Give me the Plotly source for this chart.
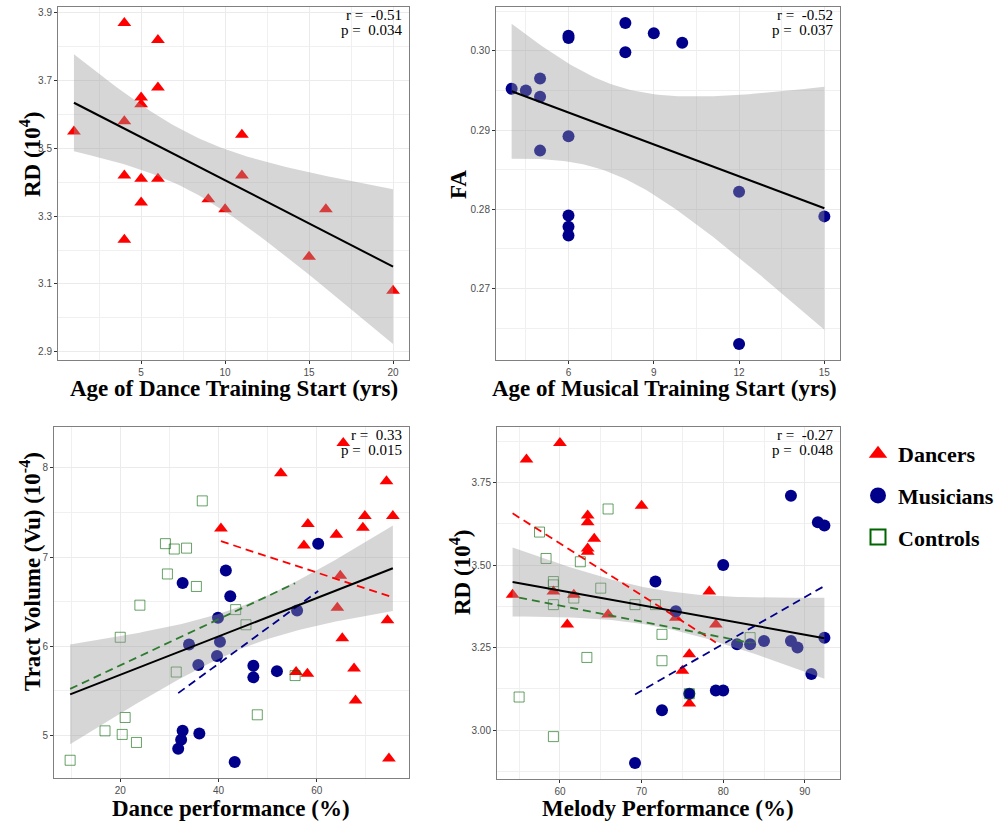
import numpy as np
import plotly.graph_objects as go

W, H = 1001, 825

# ---------------- Panel A: dancers, age of dance training start vs RD
dance_start_age = [1, 4, 4, 4, 4, 5, 5, 5, 5, 6, 6, 6, 9, 10, 11, 11, 15, 16, 20]
dance_start_rd = [3.55, 3.87, 3.58, 3.42, 3.23, 3.65, 3.63, 3.41, 3.34, 3.82,
                  3.68, 3.41, 3.35, 3.32, 3.54, 3.42, 3.18, 3.32, 3.08]
stats_a = ("-0.51", "0.034")

# ---------------- Panel B: musicians, age of musical training start vs FA
music_start_age = [4, 4.5, 5, 5, 5, 6, 6, 6, 6, 6, 6, 8, 8, 9, 10, 12, 12, 15]
music_start_fa = [0.2952, 0.2950, 0.2965, 0.2942, 0.2874, 0.3019, 0.3016, 0.2892,
                  0.2792, 0.2778, 0.2767, 0.3035, 0.2998, 0.3022, 0.3010, 0.2822,
                  0.2630, 0.2791]
stats_b = ("-0.52", "0.037")

# ---------------- Panel C: dance performance vs tract volume
dancers_dance_perf = [65.4, 52.7, 74.2, 69.8, 75.5, 40.5, 58.2, 64.0, 57.4, 69.4,
                      64.8, 64.2, 74.4, 65.2, 67.6, 55.8, 58.1, 67.9, 74.7]
dancers_volume = [8.28, 7.94, 7.85, 7.46, 7.46, 7.32, 7.37, 7.25, 7.13, 7.33,
                  6.79, 6.43, 6.29, 6.09, 5.75, 5.71, 5.69, 5.39, 4.74]
musicians_dance_perf = [60.3, 41.5, 32.7, 42.4, 39.9, 56.0, 34.0, 40.3, 39.7, 35.9,
                        47.1, 47.1, 51.9, 32.7, 32.4, 31.8, 36.1, 43.3]
musicians_volume = [7.15, 6.85, 6.71, 6.56, 6.32, 6.40, 6.02, 6.05, 5.89, 5.79,
                    5.78, 5.65, 5.72, 5.05, 4.95, 4.85, 5.02, 4.70]
controls_dance_perf = [36.7, 29.2, 31.0, 33.5, 29.6, 35.5, 24.0, 43.5, 45.6, 20.0,
                       31.4, 55.6, 47.9, 21.0, 16.9, 20.4, 23.3, 9.8]
controls_volume = [7.63, 7.15, 7.09, 7.10, 6.81, 6.67, 6.46, 6.41, 6.24, 6.10,
                   5.71, 5.67, 5.23, 5.20, 5.05, 5.01, 4.92, 4.72]
stats_c = ("0.33", "0.015")

# ---------------- Panel D: melody performance vs RD
dancers_melody = [54.2, 55.9, 60.0, 59.2, 60.9, 61.7, 63.4, 63.4, 63.4, 63.4,
                  64.2, 65.9, 70.0, 74.2, 75.0, 75.85, 75.85, 78.3, 79.1]
dancers_rd = [3.41, 3.82, 3.87, 3.42, 3.32, 3.41, 3.65, 3.63, 3.55, 3.54,
              3.58, 3.35, 3.68, 3.34, 3.18, 3.23, 3.08, 3.42, 3.32]
musicians_melody = [88.3, 91.6, 92.4, 80.0, 71.7, 74.2, 81.7, 83.3, 85.0, 88.3,
                    89.1, 92.4, 90.8, 79.1, 80.0, 75.85, 72.5, 69.2]
musicians_rd = [3.71, 3.63, 3.62, 3.50, 3.45, 3.36, 3.26, 3.26, 3.27, 3.27,
                3.25, 3.28, 3.17, 3.12, 3.12, 3.11, 3.06, 2.90]
controls_melody = [65.9, 57.5, 58.3, 62.5, 59.2, 59.2, 65.0, 61.7, 59.2, 69.2,
                   71.7, 72.5, 72.5, 83.3, 63.3, 55.0, 59.2, 75.85]
controls_rd = [3.67, 3.60, 3.52, 3.51, 3.45, 3.44, 3.43, 3.40, 3.38, 3.38,
               3.38, 3.29, 3.21, 3.28, 3.22, 3.10, 2.98, 3.11]
stats_d = ("-0.27", "0.048")

# ---------------- styling
RED = "#FF0000"
NAVY = "#00008B"
GREEN = "#006400"
GREEN_DASH = "#2E7A2E"
SQUARE_LINE = "rgba(0,100,0,0.6)"
RIBBON = "rgba(153,153,153,0.4)"
SERIF = "Liberation Serif"
SANS = "Liberation Sans"

# panel pixel boxes: left, right, top, bottom
PANELS = {
    1: (58, 409, 7, 360),
    2: (496, 840, 7, 360),
    3: (54, 409, 427, 778),
    4: (497, 840, 427, 779),
}

T975 = {16: 2.1199, 17: 2.1098, 53: 2.0057, 52: 2.0066}


def lm_fit(x, y, n_grid=80):
    x = np.asarray(x, float)
    y = np.asarray(y, float)
    n = len(x)
    b1, b0 = np.polyfit(x, y, 1)
    xs = np.linspace(x.min(), x.max(), n_grid)
    ys = b0 + b1 * xs
    resid = y - (b0 + b1 * x)
    s = np.sqrt((resid ** 2).sum() / (n - 2))
    sxx = ((x - x.mean()) ** 2).sum()
    se = s * np.sqrt(1.0 / n + (xs - x.mean()) ** 2 / sxx)
    t = T975.get(n - 2, 2.0)
    return xs, ys, ys - t * se, ys + t * se


def expand(vals):
    lo, hi = float(np.min(vals)), float(np.max(vals))
    d = (hi - lo) * 0.05
    return [lo - d, hi + d]


fig = go.Figure()


def ax(i):
    return ("x" if i == 1 else f"x{i}"), ("y" if i == 1 else f"y{i}")


def add_points(i, x, y, kind):
    xa, ya = ax(i)
    if kind == "d":
        m = dict(symbol="triangle-up", size=12, color=RED)
    elif kind == "m":
        m = dict(symbol="circle", size=12, color=NAVY)
    else:
        m = dict(symbol="square-open", size=10, color=SQUARE_LINE,
                 line=dict(color=SQUARE_LINE, width=1))
    fig.add_trace(go.Scatter(x=x, y=y, mode="markers", marker=m,
                             showlegend=False, hoverinfo="skip",
                             xaxis=xa, yaxis=ya))


def add_ribbon(i, x, y):
    xa, ya = ax(i)
    xs, ys, lo, hi = lm_fit(x, y)
    fig.add_trace(go.Scatter(x=np.concatenate([xs, xs[::-1]]),
                             y=np.concatenate([hi, lo[::-1]]),
                             fill="toself", fillcolor=RIBBON, mode="lines",
                             line=dict(width=0), showlegend=False,
                             hoverinfo="skip", xaxis=xa, yaxis=ya))
    return xs, ys, lo, hi


def add_line(i, xs, ys, color, dash=None, width=2):
    xa, ya = ax(i)
    fig.add_trace(go.Scatter(x=xs, y=ys, mode="lines",
                             line=dict(color=color, width=width, dash=dash),
                             showlegend=False, hoverinfo="skip",
                             xaxis=xa, yaxis=ya))


def add_group_line(i, x, y, color):
    xs, ys, _, _ = lm_fit(x, y, n_grid=2)
    add_line(i, xs, ys, color, dash="8px,5px", width=1.8)


ranges = {}

# Panel A
add_points(1, dance_start_age, dance_start_rd, "d")
xs, ys, lo, hi = add_ribbon(1, dance_start_age, dance_start_rd)
add_line(1, xs, ys, "black")
ranges[1] = (expand(dance_start_age), expand(np.concatenate([dance_start_rd, lo, hi])))

# Panel B
add_points(2, music_start_age, music_start_fa, "m")
xs, ys, lo, hi = add_ribbon(2, music_start_age, music_start_fa)
add_line(2, xs, ys, "black")
ranges[2] = (expand(music_start_age), expand(np.concatenate([music_start_fa, lo, hi])))

# Panel C
add_points(3, dancers_dance_perf, dancers_volume, "d")
add_points(3, musicians_dance_perf, musicians_volume, "m")
add_points(3, controls_dance_perf, controls_volume, "c")
all_x = dancers_dance_perf + musicians_dance_perf + controls_dance_perf
all_y = dancers_volume + musicians_volume + controls_volume
xs, ys, lo, hi = add_ribbon(3, all_x, all_y)
add_group_line(3, dancers_dance_perf, dancers_volume, RED)
add_group_line(3, musicians_dance_perf, musicians_volume, NAVY)
add_group_line(3, controls_dance_perf, controls_volume, GREEN_DASH)
add_line(3, xs, ys, "black")
ranges[3] = (expand(all_x), expand(np.concatenate([all_y, lo, hi])))

# Panel D
add_points(4, dancers_melody, dancers_rd, "d")
add_points(4, musicians_melody, musicians_rd, "m")
add_points(4, controls_melody, controls_rd, "c")
all_x = dancers_melody + musicians_melody + controls_melody
all_y = dancers_rd + musicians_rd + controls_rd
xs, ys, lo, hi = add_ribbon(4, all_x, all_y)
add_group_line(4, dancers_melody, dancers_rd, RED)
add_group_line(4, musicians_melody, musicians_rd, NAVY)
add_group_line(4, controls_melody, controls_rd, GREEN_DASH)
add_line(4, xs, ys, "black")
ranges[4] = (expand(all_x), expand(np.concatenate([all_y, lo, hi])))

# legend-only traces
legend_items = [
    ("Dancers", dict(symbol="triangle-up", size=16, color=RED)),
    ("Musicians", dict(symbol="circle", size=16, color=NAVY)),
    ("Controls", dict(symbol="square-open", size=15, color=GREEN,
                      line=dict(color=GREEN, width=2))),
]
for name, m in legend_items:
    fig.add_trace(go.Scatter(x=[None], y=[None], mode="markers", marker=m,
                             name=f"<b>{name}</b>", legendgroup=name,
                             showlegend=True, xaxis="x", yaxis="y"))

ticks = {
    1: (dict(tick0=0, dtick=5, tickformat="d"), dict(dtick=2.5, tick0=0),
        dict(tick0=2.9, dtick=0.2, tickformat=".1f"), dict(dtick=0.1, tick0=2.9)),
    2: (dict(tick0=0, dtick=3, tickformat="d"), dict(dtick=1.5, tick0=0),
        dict(tick0=0.27, dtick=0.01, tickformat=".2f"), dict(dtick=0.005, tick0=0.27)),
    3: (dict(tick0=0, dtick=20, tickformat="d"), dict(dtick=10, tick0=0),
        dict(tick0=0, dtick=1, tickformat="d"), dict(dtick=0.5, tick0=0)),
    4: (dict(tick0=0, dtick=10, tickformat="d"), dict(dtick=5, tick0=0),
        dict(tick0=3.0, dtick=0.25, tickformat=".2f"), dict(dtick=0.125, tick0=3.0)),
}

common = dict(showline=True, mirror=True, linecolor="#808080", linewidth=1,
              ticks="outside", ticklen=3, tickcolor="#333333", tickwidth=1,
              tickfont=dict(family=SANS, size=10, color="#4D4D4D"),
              showgrid=True, gridcolor="#EBEBEB", gridwidth=1, zeroline=False,
              tickmode="linear", fixedrange=True)

layout_axes = {}
for i, (l, r, t, b) in PANELS.items():
    xa, ya = ax(i)
    xkey = "xaxis" if i == 1 else f"xaxis{i}"
    ykey = "yaxis" if i == 1 else f"yaxis{i}"
    xt, xm, yt, ym = ticks[i]
    layout_axes[xkey] = dict(common, domain=[l / W, r / W], anchor=ya,
                             range=ranges[i][0], **xt,
                             minor=dict(showgrid=True, gridcolor="#F0F0F0",
                                        gridwidth=0.6, **xm))
    layout_axes[ykey] = dict(common, domain=[1 - b / H, 1 - t / H], anchor=xa,
                             range=ranges[i][1], **yt,
                             minor=dict(showgrid=True, gridcolor="#F0F0F0",
                                        gridwidth=0.6, **ym))

fig.update_layout(
    width=W, height=H,
    margin=dict(l=0, r=0, t=0, b=0),
    paper_bgcolor="white", plot_bgcolor="white",
    showlegend=True,
    legend=dict(x=858 / W, y=1 - 433 / H, xanchor="left", yanchor="top",
                font=dict(family=SERIF, size=22, color="black"),
                bgcolor="rgba(0,0,0,0)", tracegroupgap=10,
                itemclick=False, itemdoubleclick=False),
    **layout_axes,
)

# axis titles
TITLE_FONT = dict(family=SERIF, size=23, color="black")
x_titles = [
    ("Age of Dance Training Start (yrs)", 234, 389),
    ("Age of Musical Training Start (yrs)", 664, 389),
    ("Dance performance (%)", 231, 808),
    ("Melody Performance (%)", 668, 808),
]
for text, px, py in x_titles:
    fig.add_annotation(text=f"<b>{text}</b>", x=px / W, y=1 - py / H,
                       xref="paper", yref="paper", showarrow=False,
                       xanchor="center", yanchor="middle", font=TITLE_FONT)

y_titles = [
    ("RD (10<sup>4</sup>)", 30, 155),
    ("FA", 458, 185),
    ("Tract Volume (Vu) (10<sup>-4</sup>)", 30, 572),
    ("RD (10<sup>4</sup>)", 460, 573),
]
for text, px, py in y_titles:
    fig.add_annotation(text=f"<b>{text}</b>", x=px / W, y=1 - py / H,
                       xref="paper", yref="paper", showarrow=False,
                       xanchor="center", yanchor="middle", textangle=-90,
                       font=TITLE_FONT)

# r / p statistics
STAT_FONT = dict(family=SERIF, size=15, color="black")
for i, (rv, pv) in zip([1, 2, 3, 4], [stats_a, stats_b, stats_c, stats_d]):
    l, r, t, b = PANELS[i]
    for k, txt in enumerate([f"r = &nbsp;{rv}", f"p = &nbsp;{pv}"]):
        fig.add_annotation(text=txt, x=(r - 5) / W, y=1 - (t + 8 + 15 * k) / H,
                           xref="paper", yref="paper", showarrow=False,
                           xanchor="right", yanchor="middle", font=STAT_FONT)

fig.write_html("out.html",
               config={"displayModeBar": False},
               post_script="document.body.style.margin='0';"
                           "document.body.style.overflow='hidden';")
